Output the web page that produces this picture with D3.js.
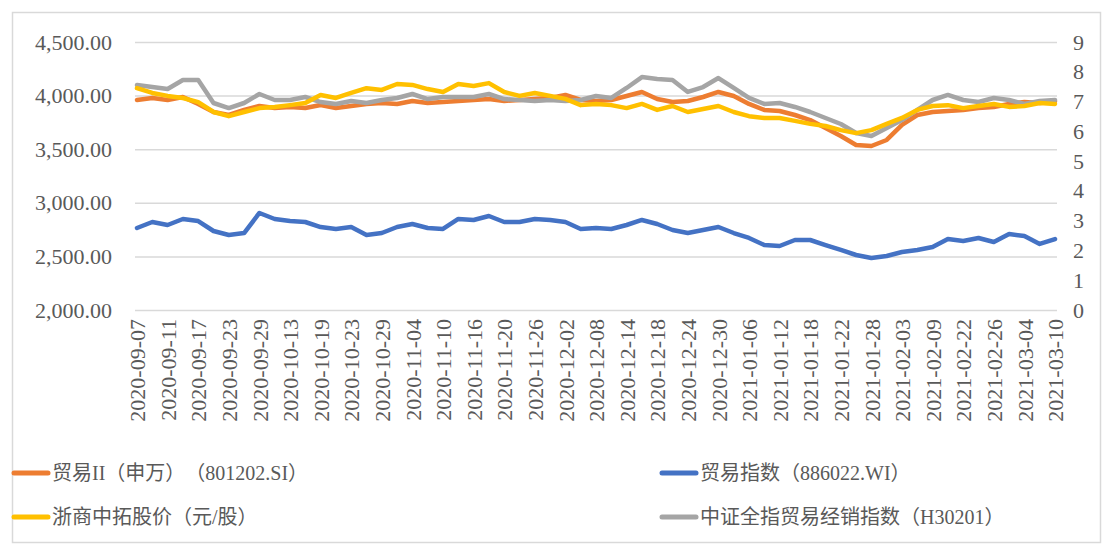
<!DOCTYPE html>
<html>
<head>
<meta charset="utf-8">
<script src="https://cdn.jsdelivr.net/npm/d3@7"></script>
<style>
  body { margin: 0; background: #fff; }
  svg { display: block; }
  text { font-family: "Liberation Serif", "Noto Sans CJK SC", serif; fill: #595959; text-spacing-trim: space-all; }
</style>
</head>
<body>
<svg width="1113" height="544"></svg>
<script>
// tick labels, one every 4 trading days (series below sampled every 2 trading days)
const tickLabels = ["2020-09-07","2020-09-11","2020-09-17","2020-09-23","2020-09-29","2020-10-13","2020-10-19",
  "2020-10-23","2020-10-29","2020-11-04","2020-11-10","2020-11-16","2020-11-20","2020-11-26","2020-12-02",
  "2020-12-08","2020-12-14","2020-12-18","2020-12-24","2020-12-30","2021-01-06","2021-01-12","2021-01-18",
  "2021-01-22","2021-01-28","2021-02-03","2021-02-09","2021-02-22","2021-02-26","2021-03-04","2021-03-10"];

// 贸易II（申万）（801202.SI）
const tradeSW = [3959,3978,3959,3987,3922,3847,3819,3866,3903,3884,3894,3884,3912,3884,3903,3922,3931,3922,3950,3931,
  3940,3950,3959,3968,3950,3959,3968,3978,4006,3959,3950,3959,3996,4034,3968,3940,3950,3987,4034,3996,
  3922,3866,3856,3819,3772,3698,3623,3539,3530,3586,3726,3819,3847,3856,3866,3884,3894,3922,3940,3931,3950];
// 贸易指数（886022.WI）
const tradeWind = [2765,2821,2793,2849,2830,2737,2700,2718,2905,2849,2830,2821,2774,2756,2774,2700,2718,2774,2802,2765,
  2756,2849,2840,2877,2821,2821,2849,2840,2821,2756,2765,2756,2793,2840,2802,2746,2718,2746,2774,2718,
  2672,2606,2597,2653,2653,2606,2560,2513,2485,2504,2541,2560,2588,2662,2644,2672,2634,2709,2690,2616,2662];
// 中证全指贸易经销指数（H30201）
const csiTrade = [4099,4080,4062,4146,4146,3931,3884,3931,4015,3959,3959,3987,3940,3922,3950,3931,3959,3978,4015,3968,
  3987,3987,3987,4015,3968,3959,3950,3959,3950,3959,3996,3978,4071,4173,4155,4146,4034,4080,4164,4071,
  3978,3922,3931,3894,3847,3791,3735,3651,3623,3698,3772,3866,3959,4006,3959,3940,3978,3959,3922,3950,3959];
// 浙商中拓股价（元/股）, right axis
const zszt = [7.45,7.29,7.19,7.12,6.98,6.65,6.51,6.65,6.78,6.82,6.88,6.95,7.22,7.12,7.29,7.45,7.39,7.59,7.56,7.42,
  7.32,7.59,7.52,7.62,7.32,7.19,7.29,7.19,7.09,6.88,6.92,6.88,6.78,6.92,6.72,6.85,6.65,6.75,6.85,6.65,
  6.51,6.45,6.45,6.35,6.25,6.18,6.04,5.94,6.04,6.25,6.45,6.72,6.85,6.88,6.78,6.85,6.92,6.82,6.85,6.95,6.92];

const leftTicks = [2000, 2500, 3000, 3500, 4000, 4500];
const rightTicks = [0, 1, 2, 3, 4, 5, 6, 7, 8, 9];

const series = [
  {name: "贸易II（申万）（801202.SI）", values: tradeSW, color: "#ED7D31", axis: "left"},
  {name: "贸易指数（886022.WI）", values: tradeWind, color: "#4472C4", axis: "left"},
  {name: "中证全指贸易经销指数（H30201）", values: csiTrade, color: "#A5A5A5", axis: "left"},
  {name: "浙商中拓股价（元/股）", values: zszt, color: "#FFC000", axis: "right"}
];

const svg = d3.select("svg");
const plot = {left: 137, right: 1055, top: 42, bottom: 310};

const x = d3.scaleLinear().domain([0, tradeSW.length - 1]).range([plot.left, plot.right]);
const yL = d3.scaleLinear().domain([2000, 4500]).range([plot.bottom, plot.top]);
const yR = d3.scaleLinear().domain([0, 9]).range([plot.bottom, plot.top]);

// outer border
svg.append("rect").attr("x", 12.5).attr("y", 12.5).attr("width", 1088).attr("height", 530)
  .attr("fill", "none").attr("stroke", "#D9D9D9").attr("stroke-width", 1.5);

// gridlines + left axis
const gy = svg.append("g").attr("transform", "translate(" + (plot.left - 2) + ",0)")
  .call(d3.axisLeft(yL).tickValues(leftTicks).tickFormat(d3.format(",.2f"))
    .tickSize(-(plot.right - plot.left + 4)).tickPadding(23));
gy.select(".domain").remove();
gy.selectAll("line").attr("stroke", "#D9D9D9").attr("stroke-width", 1.5);
gy.selectAll("text").style("font-size", "22px").attr("fill", "#595959");

// right axis (labels only)
const gr = svg.append("g").attr("transform", "translate(" + (plot.right + 2) + ",0)")
  .call(d3.axisRight(yR).tickValues(rightTicks).tickFormat(d3.format("d")).tickSize(0).tickPadding(16));
gr.select(".domain").remove();
gr.selectAll("text").style("font-size", "22px").attr("fill", "#595959");

// category labels
const gx = svg.append("g").attr("transform", "translate(0," + plot.bottom + ")")
  .call(d3.axisBottom(x).tickValues(tickLabels.map((d, i) => i * 2)).tickFormat(i => tickLabels[i / 2]).tickSize(0));
gx.select(".domain").remove();
gx.selectAll("text").style("font-size", "22px").attr("fill", "#595959")
  .attr("text-anchor", "end").attr("transform", "rotate(-90)")
  .attr("x", -9).attr("y", 0).attr("dy", "0.35em");

// lines
series.forEach(s => {
  const y = s.axis === "left" ? yL : yR;
  const line = d3.line().x((d, i) => x(i)).y(d => y(d));
  svg.append("path").datum(s.values).attr("d", line)
    .attr("fill", "none").attr("stroke", s.color).attr("stroke-width", 4.5)
    .attr("stroke-linejoin", "round").attr("stroke-linecap", "round");
});

// legend
const legendPos = [
  {s: series[0], x: 12, y: 473},
  {s: series[1], x: 660, y: 473},
  {s: series[3], x: 12, y: 517},
  {s: series[2], x: 660, y: 517}
];
const lg = svg.append("g");
legendPos.forEach(p => {
  lg.append("line").attr("x1", p.x + 2).attr("x2", p.x + 36).attr("y1", p.y).attr("y2", p.y)
    .attr("stroke", p.s.color).attr("stroke-width", 5).attr("stroke-linecap", "round");
  lg.append("text").attr("x", p.x + 40).attr("y", p.y).attr("dy", "0.35em")
    .style("font-size", "20px").text(p.s.name);
});
</script>
</body>
</html>
